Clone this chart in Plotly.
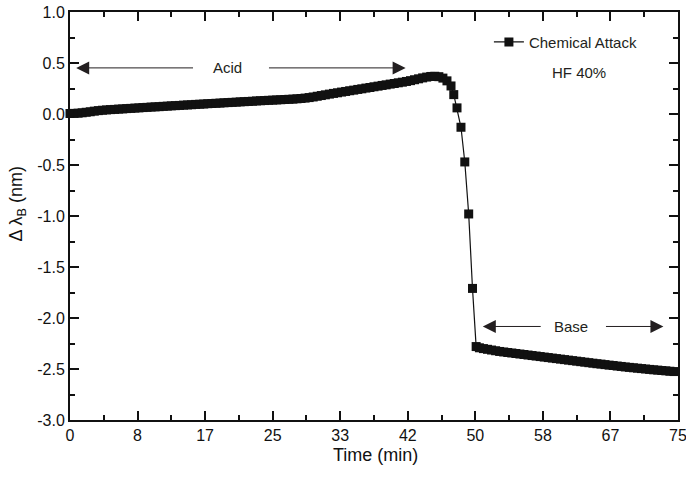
import plotly.graph_objects as go

# ---- data ----
acid_time = [0, 0.5, 1, 1.5, 2, 2.5, 3, 3.5, 4, 4.5, 5, 5.5, 6, 6.5, 7, 7.5, 8, 8.5, 9, 9.5,
             10, 10.5, 11, 11.5, 12, 12.5, 13, 13.5, 14, 14.5, 15, 15.5, 16, 16.5, 17, 17.5,
             18, 18.5, 19, 19.5, 20, 20.5, 21, 21.5, 22, 22.5, 23, 23.5, 24, 24.5, 25, 25.5,
             26, 26.5, 27, 27.5, 28, 28.5, 29, 29.5, 30, 30.5, 31, 31.5, 32, 32.5, 33, 33.5,
             34, 34.5, 35, 35.5, 36, 36.5, 37, 37.5, 38, 38.5, 39, 39.5, 40, 40.5, 41, 41.5,
             42, 42.5, 43, 43.5, 44, 44.5, 45, 45.5, 46, 46.5, 47, 47.34]
acid_shift = [0.005, 0.006, 0.008, 0.012, 0.017, 0.022, 0.028, 0.033, 0.037, 0.040, 0.043, 0.045,
              0.048, 0.050, 0.053, 0.055, 0.058, 0.060, 0.063, 0.065, 0.068, 0.070, 0.072, 0.075,
              0.077, 0.080, 0.082, 0.084, 0.087, 0.089, 0.091, 0.094, 0.096, 0.098, 0.101, 0.103,
              0.105, 0.107, 0.110, 0.112, 0.114, 0.116, 0.119, 0.121, 0.123, 0.125, 0.128, 0.130,
              0.132, 0.134, 0.136, 0.138, 0.140, 0.142, 0.144, 0.146, 0.149, 0.152, 0.156, 0.161,
              0.167, 0.174, 0.181, 0.188, 0.195, 0.202, 0.208, 0.215, 0.221, 0.228, 0.234, 0.241,
              0.247, 0.254, 0.260, 0.267, 0.273, 0.280, 0.286, 0.293, 0.299, 0.306, 0.312, 0.319,
              0.327, 0.336, 0.345, 0.354, 0.362, 0.368, 0.370, 0.366, 0.352, 0.325, 0.275, 0.190]

drop_time = [47.74, 48.23, 48.70, 49.18, 49.65]
drop_shift = [0.06, -0.13, -0.47, -0.98, -1.71]

base_time = [50.1, 50.5, 51, 51.5, 52, 52.5, 53, 53.5, 54, 54.5, 55, 55.5, 56, 56.5, 57, 57.5,
             58, 58.5, 59, 59.5, 60, 60.5, 61, 61.5, 62, 62.5, 63, 63.5, 64, 64.5, 65, 65.5,
             66, 66.5, 67, 67.5, 68, 68.5, 69, 69.5, 70, 70.5, 71, 71.5, 72, 72.5, 73, 73.5,
             74, 74.5]
base_shift = [-2.280, -2.292, -2.300, -2.307, -2.314, -2.321, -2.328, -2.333, -2.338, -2.343,
              -2.348, -2.353, -2.358, -2.363, -2.368, -2.373, -2.378, -2.383, -2.388, -2.393,
              -2.398, -2.403, -2.408, -2.413, -2.418, -2.423, -2.428, -2.433, -2.438, -2.443,
              -2.448, -2.452, -2.457, -2.462, -2.466, -2.471, -2.475, -2.480, -2.484, -2.488,
              -2.492, -2.496, -2.500, -2.504, -2.508, -2.511, -2.515, -2.518, -2.522, -2.525]

time_min = acid_time + drop_time + base_time
shift_nm = acid_shift + drop_shift + base_shift

x_tick_labels = ["0", "8", "17", "25", "33", "42", "50", "58", "67", "75"]
y_tick_vals = [1.0, 0.5, 0.0, -0.5, -1.0, -1.5, -2.0, -2.5, -3.0]
y_tick_labels = ["1.0", "0.5", "0.0", "-0.5", "-1.0", "-1.5", "-2.0", "-2.5", "-3.0"]

series_name = "Chemical Attack"
note_text = "HF 40%"

# phase arrows: (tip, tail) in minutes, y level, label position
acid_arrows = [(0.76, 15.36), (41.4, 24.36)]
acid_y = 0.452
acid_label_x = 19.4
base_arrows = [(50.92, 58.25), (73.2, 65.93)]
base_y = -2.083
base_label_x = 61.8

FONT = "Liberation Sans, Arial, sans-serif"
INK = "#111111"
ARROW = "#231f20"

x_major = [round(75 / 9 * i, 6) for i in range(10)]
x_minor = [round(75 / 18 * (2 * i + 1), 6) for i in range(9)]

fig = go.Figure()
fig.add_trace(go.Scatter(
    x=time_min, y=shift_nm, mode="lines+markers", name=series_name,
    line=dict(color=INK, width=1.2),
    marker=dict(symbol="square", size=9, color=INK, line=dict(width=0)),
    cliponaxis=False, showlegend=True,
))

annotations = []
for tip, tail in acid_arrows:
    annotations.append(dict(x=tip, y=acid_y, ax=tail, ay=acid_y, xref="x", yref="y",
                            axref="x", ayref="y", text="", showarrow=True, arrowhead=2,
                            arrowsize=2.6, arrowwidth=1, arrowcolor=ARROW))
for tip, tail in base_arrows:
    annotations.append(dict(x=tip, y=base_y, ax=tail, ay=base_y, xref="x", yref="y",
                            axref="x", ayref="y", text="", showarrow=True, arrowhead=2,
                            arrowsize=2.6, arrowwidth=1, arrowcolor=ARROW))
annotations.append(dict(x=acid_label_x, y=acid_y, xref="x", yref="y", text="Acid",
                        xanchor="center", yanchor="middle", showarrow=False,
                        font=dict(family=FONT, size=15, color=ARROW)))
annotations.append(dict(x=base_label_x, y=base_y, xref="x", yref="y", text="Base",
                        xanchor="center", yanchor="middle", showarrow=False,
                        font=dict(family=FONT, size=15, color=ARROW)))
annotations.append(dict(x=0.8375, y=0.852, xref="paper", yref="paper", text=note_text,
                        xanchor="center", yanchor="middle", showarrow=False,
                        font=dict(family=FONT, size=15, color=ARROW)))
annotations.append(dict(x=-0.086, y=0.53, xref="paper", yref="paper",
                        text="Δ λ<sub>B</sub> (nm)", textangle=-90, showarrow=False,
                        xanchor="center", yanchor="middle",
                        font=dict(family=FONT, size=18, color=INK)))
annotations.append(dict(x=0.502, y=-0.086, xref="paper", yref="paper",
                        text="Time (min)", showarrow=False,
                        xanchor="center", yanchor="middle",
                        font=dict(family=FONT, size=18, color=INK)))

fig.update_layout(
    width=686, height=477,
    margin=dict(l=70, r=8, t=12, b=57, autoexpand=False),
    paper_bgcolor="white", plot_bgcolor="white",
    font=dict(family=FONT, size=16, color=INK),
    showlegend=True,
    legend=dict(x=0.689, y=0.926, xanchor="left", yanchor="middle",
                bgcolor="rgba(0,0,0,0)", borderwidth=0,
                font=dict(family=FONT, size=15, color=ARROW)),
    annotations=annotations,
)
fig.update_xaxes(
    range=[0, 75], showline=True, linewidth=2, linecolor=INK, mirror="ticks",
    showgrid=False, zeroline=False, automargin=False, ticklabeloverflow="allow",
    tickmode="array", tickvals=x_major, ticktext=x_tick_labels,
    ticks="inside", ticklen=9, tickwidth=2, tickcolor=INK,
    tickfont=dict(family=FONT, size=16, color=INK),
    minor=dict(tickmode="array", tickvals=x_minor, ticks="inside", ticklen=5,
               tickwidth=2, tickcolor=INK, showgrid=False),
)
fig.update_yaxes(
    range=[-3, 1], showline=True, linewidth=2, linecolor=INK, mirror="ticks",
    showgrid=False, zeroline=False, automargin=False, ticklabeloverflow="allow",
    tickmode="array", tickvals=y_tick_vals, ticktext=y_tick_labels,
    ticks="inside", ticklen=9, tickwidth=2, tickcolor=INK,
    tickfont=dict(family=FONT, size=16, color=INK),
    minor=dict(dtick=0.25, ticks="inside", ticklen=5, tickwidth=2, tickcolor=INK,
               showgrid=False),
)

fig.write_html("out.html", config={"displayModeBar": False},
               post_script="document.body.style.margin='0';")
